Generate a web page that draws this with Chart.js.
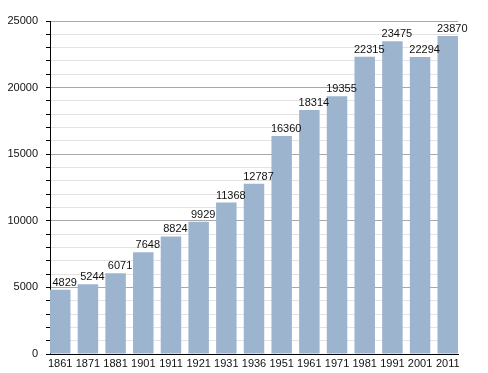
<!DOCTYPE html>
<html>
<head>
<meta charset="utf-8">
<script src="https://cdn.jsdelivr.net/npm/chart.js@4/dist/chart.umd.min.js"></script>
<style>
html,body{margin:0;padding:0;background:#fff;}
#wrap{width:488px;height:373px;}
</style>
</head>
<body>
<div id="wrap"><canvas id="c" width="488" height="373"></canvas></div>
<script>
const years = ["1861","1871","1881","1901","1911","1921","1931","1936","1951","1961","1971","1981","1991","2001","2011"];
const population = [4829,5244,6071,7648,8824,9929,11368,12787,16360,18314,19355,22315,23475,22294,23870];
const yTickMax = 25000;
const yMajorStep = 5000;
const yMinorStep = 1000;

const labelPlugin = {
  id: 'valueLabels',
  afterDatasetsDraw(chart) {
    const ctx = chart.ctx;
    const meta = chart.getDatasetMeta(0);
    ctx.save();
    ctx.font = '11px "Liberation Sans", Arial, sans-serif';
    ctx.fillStyle = '#111';
    ctx.textAlign = 'center';
    ctx.textBaseline = 'alphabetic';
    meta.data.forEach((bar, i) => {
      ctx.fillText(String(population[i]), bar.x + 4.5, bar.y - 4);
    });
    ctx.restore();
  }
};

new Chart(document.getElementById('c'), {
  type: 'bar',
  data: {
    datasets: [{
      data: population.map((v, i) => ({x: i, y: v})),
      backgroundColor: 'rgb(157,180,207)',
      borderWidth: 0,
      barPercentage: 0.74,
      categoryPercentage: 1.0
    }]
  },
  options: {
    responsive: false,
    animation: false,
    events: [],
    layout: {padding: {top: 21, right: 30, left: 0, bottom: 0}},
    plugins: {legend: {display: false}, tooltip: {enabled: false}},
    scales: {
      x: {
        type: 'linear',
        offset: false,
        min: -0.37,
        max: 14.37,
        grid: {display: false, drawTicks: false, offset: false},
        border: {display: true, color: '#000', width: 1},
        ticks: {
          stepSize: 1,
          includeBounds: false,
          autoSkip: false,
          maxRotation: 0,
          padding: 3,
          color: '#111',
          font: {family: '"Liberation Sans", Arial, sans-serif', size: 11},
          callback: (v) => Number.isInteger(v) ? years[v] : ''
        },
        afterFit: (s) => { s.height = 19; }
      },
      y: {
        min: 0,
        max: yTickMax,
        grid: {
          color: (c) => (c.tick && c.tick.value % yMajorStep === 0) ? '#a8a8a8' : '#e3e3e3',
          tickColor: '#000',
          tickLength: 4,
          drawTicks: true
        },
        border: {display: true, color: '#000', width: 1},
        ticks: {
          stepSize: yMinorStep,
          autoSkip: false,
          padding: 8,
          color: '#111',
          font: {family: '"Liberation Sans", Arial, sans-serif', size: 11},
          callback: (v) => v % yMajorStep === 0 ? String(v) : ''
        },
        afterFit: (s) => { s.width = 50; }
      }
    }
  },
  plugins: [labelPlugin]
});
</script>
</body>
</html>
